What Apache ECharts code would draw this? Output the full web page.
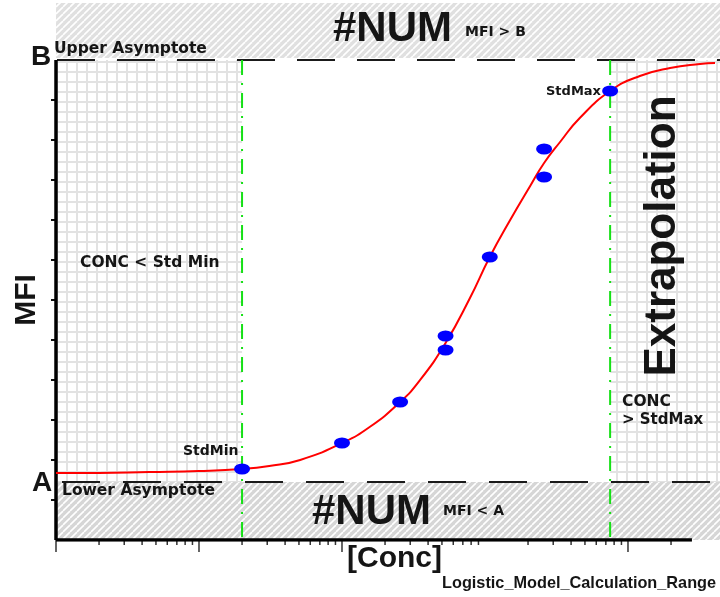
<!DOCTYPE html>
<html>
<head>
<meta charset="utf-8">
<script src="https://cdn.jsdelivr.net/npm/echarts@6/dist/echarts.min.js"></script>
<style>
  html, body { margin: 0; padding: 0; background: #fff; }
  #chart { width: 720px; height: 597px; }
</style>
</head>
<body>
<div id="chart"></div>
<script>
// Standards (concentration, MFI)
const stdConc = [20, 100, 255, 530, 530, 1080, 2590, 2590, 7500];
const stdMfi  = [1.775, 2.425, 3.45, 5.1, 4.75, 7.075, 9.775, 9.075, 11.225];

// Fitted logistic curve, sampled along the concentration axis
const curveConc = [1, 2, 4.5, 10, 20, 31, 51, 100, 157, 255, 350, 530, 785, 1080, 1500, 2070, 2590, 3350, 4600, 7500, 12100, 19700, 31900, 40600];
const curveMfi  = [1.675, 1.675, 1.70, 1.725, 1.775, 1.85, 2.0, 2.425, 2.83, 3.45, 3.99, 4.925, 6.05, 7.075, 8.0, 8.85, 9.425, 9.95, 10.55, 11.225, 11.6, 11.8, 11.9, 11.925];

// Asymptotes and standard range
const upperB = 12;
const lowerA = 1.45;
const stdMinConc = 20;
const stdMaxConc = 7500;

// Axis extents
const concMin = 1;
const concMax = 44000;
const concAxisEnd = 28000;
const mfiMin = 0;
const mfiMax = 13.425;

// Tick values
const majorConcTicks = [1, 10, 100, 10000];
const minorConcTicks = [2, 3, 4, 5, 6, 7, 8, 9,
  20, 30, 40, 50, 60, 70, 80, 90,
  200, 300, 400, 500, 600, 700, 800, 900,
  2000, 3000, 4000, 5000, 6000, 7000, 8000, 9000,
  20000];
const mfiTicks = [1, 2, 3, 4, 5, 6, 7, 8, 9, 10, 11];

// Fill patterns
function gridPattern() {
  const c = document.createElement('canvas');
  c.width = 10; c.height = 10;
  const g = c.getContext('2d');
  g.fillStyle = '#ffffff';
  g.fillRect(0, 0, 10, 10);
  g.fillStyle = '#e2e2e2';
  g.fillRect(6, 0, 2, 10);
  g.fillRect(0, 1, 10, 2);
  return c;
}
function hatchPattern(bg) {
  const p = 7;
  const c = document.createElement('canvas');
  c.width = p; c.height = p;
  const g = c.getContext('2d');
  g.fillStyle = bg;
  g.fillRect(0, 0, p, p);
  g.strokeStyle = '#ffffff';
  g.lineWidth = 1.6;
  for (let k = -1; k <= 1; k++) {
    g.beginPath();
    g.moveTo(k * p, p);
    g.lineTo(k * p + p, 0);
    g.stroke();
  }
  return c;
}

const chart = echarts.init(document.getElementById('chart'), null, { renderer: 'canvas' });

const tickSeries = (values, len, horizontal) => ({
  type: 'custom',
  clip: false,
  silent: true,
  z: 6,
  data: values.map(v => horizontal ? [v, mfiMin] : [concMin, v]),
  renderItem: (params, api) => {
    const p = api.coord([api.value(0), api.value(1)]);
    return horizontal
      ? { type: 'line', shape: { x1: p[0], y1: p[1], x2: p[0], y2: p[1] + len }, style: { stroke: '#333', lineWidth: 1.5 } }
      : { type: 'line', shape: { x1: p[0], y1: p[1], x2: p[0] - len, y2: p[1] }, style: { stroke: '#111', lineWidth: 2 } };
  }
});

const small = 'bold 15.5px "DejaVu Sans"';
const txt = (text, x, y, font, rotation) => ({
  type: 'text', x, y, silent: true, z: 20,
  rotation: rotation || 0,
  style: {
    text, font, fill: '#151515',
    textAlign: rotation ? 'center' : 'left',
    textVerticalAlign: 'middle'
  }
});

chart.setOption({
  animation: false,
  backgroundColor: '#ffffff',
  grid: { left: 56, right: 0, top: 3, bottom: 57 },
  xAxis: {
    type: 'log', logBase: 10, min: concMin, max: concMax,
    axisLine: { show: false }, axisTick: { show: false },
    axisLabel: { show: false }, splitLine: { show: false }
  },
  yAxis: {
    type: 'value', min: mfiMin, max: mfiMax,
    axisLine: { show: false }, axisTick: { show: false },
    axisLabel: { show: false }, splitLine: { show: false }
  },
  series: [
    {
      type: 'line', data: [], silent: true, z: 1,
      markArea: {
        silent: true,
        label: { show: false },
        data: [
          [{ coord: [concMin, lowerA], itemStyle: { color: { image: gridPattern(), repeat: 'repeat' } } }, { coord: [stdMinConc, upperB] }],
          [{ coord: [stdMaxConc, lowerA], itemStyle: { color: { image: gridPattern(), repeat: 'repeat' } } }, { coord: [concMax, upperB] }],
          [{ coord: [concMin, upperB + 0.05], itemStyle: { color: { image: hatchPattern('#e0e0e0'), repeat: 'repeat' } } }, { coord: [concMax, mfiMax] }],
          [{ coord: [concMin, mfiMin], itemStyle: { color: { image: hatchPattern('#d6d6d6'), repeat: 'repeat' } } }, { coord: [concMax, lowerA] }]
        ]
      }
    },
    // Asymptote lines
    {
      type: 'line', symbol: 'none', silent: true, z: 3,
      data: [[concMin, upperB], [concMax, upperB]],
      lineStyle: { color: '#1a1a1a', width: 2, type: [38, 22], dashOffset: -1 }
    },
    {
      type: 'line', symbol: 'none', silent: true, z: 3,
      data: [[concMin, lowerA], [concMax, lowerA]],
      lineStyle: { color: '#1a1a1a', width: 2, type: [38, 23], dashOffset: 55 }
    },
    // Standard range boundaries
    {
      type: 'line', symbol: 'none', silent: true, z: 4,
      data: [[stdMinConc, upperB], [stdMinConc, mfiMin]],
      lineStyle: { color: '#16e016', width: 2, type: [15, 8, 2, 8] }
    },
    {
      type: 'line', symbol: 'none', silent: true, z: 4,
      data: [[stdMaxConc, upperB], [stdMaxConc, mfiMin]],
      lineStyle: { color: '#16e016', width: 2, type: [15, 8, 2, 8] }
    },
    // Axis lines
    {
      type: 'line', symbol: 'none', silent: true, z: 6,
      data: [[concMin, mfiMin], [concMin, upperB]],
      lineStyle: { color: '#000', width: 3.5 }
    },
    {
      type: 'line', symbol: 'none', silent: true, z: 6,
      data: [[concMin, mfiMin], [concAxisEnd, mfiMin]],
      lineStyle: { color: '#000', width: 3.5 }
    },
    tickSeries(majorConcTicks, 12, true),
    tickSeries(minorConcTicks, 5, true),
    tickSeries(mfiTicks, 5, false),
    // Fitted curve
    {
      type: 'line', symbol: 'none', smooth: true, silent: true, z: 8,
      data: curveConc.map((c, i) => [c, curveMfi[i]]),
      lineStyle: { color: '#ff0000', width: 2 }
    },
    // Standards
    {
      type: 'scatter', silent: true, z: 9,
      symbol: 'circle', symbolSize: [16, 11],
      data: stdConc.map((c, i) => [c, stdMfi[i]]),
      itemStyle: { color: '#0000ff', opacity: 1 }
    }
  ],
  graphic: [
    txt('#NUM', 333, 29, 'bold 42px "Liberation Sans"'),
    txt('MFI > B', 465, 32, 'bold 14px "DejaVu Sans"'),
    txt('B', 31, 57, 'bold 28px "Liberation Sans"'),
    txt('Upper Asymptote', 54, 49, small),
    txt('CONC < Std Min', 80, 263, small),
    txt('MFI', 27, 300, 'bold 30px "Liberation Sans"', Math.PI / 2),
    txt('StdMin', 183, 451, 'bold 14px "DejaVu Sans"'),
    txt('StdMax', 546, 92, 'bold 13px "DejaVu Sans"'),
    txt('Extrapolation', 663, 236, 'bold 44px "Liberation Sans"', Math.PI / 2),
    txt('CONC', 622, 402, small),
    txt('> StdMax', 622, 420, 'bold 15px "DejaVu Sans"'),
    txt('A', 32, 483, 'bold 28px "Liberation Sans"'),
    txt('Lower Asymptote', 62, 491, small),
    txt('#NUM', 312, 512, 'bold 42px "Liberation Sans"'),
    txt('MFI < A', 443, 511, 'bold 14px "DejaVu Sans"'),
    txt('[Conc]', 347, 559, 'bold 30px "Liberation Sans"'),
    txt('Logistic_Model_Calculation_Range', 442, 584, 'bold 16.3px "Liberation Sans"')
  ]
});
</script>
</body>
</html>
